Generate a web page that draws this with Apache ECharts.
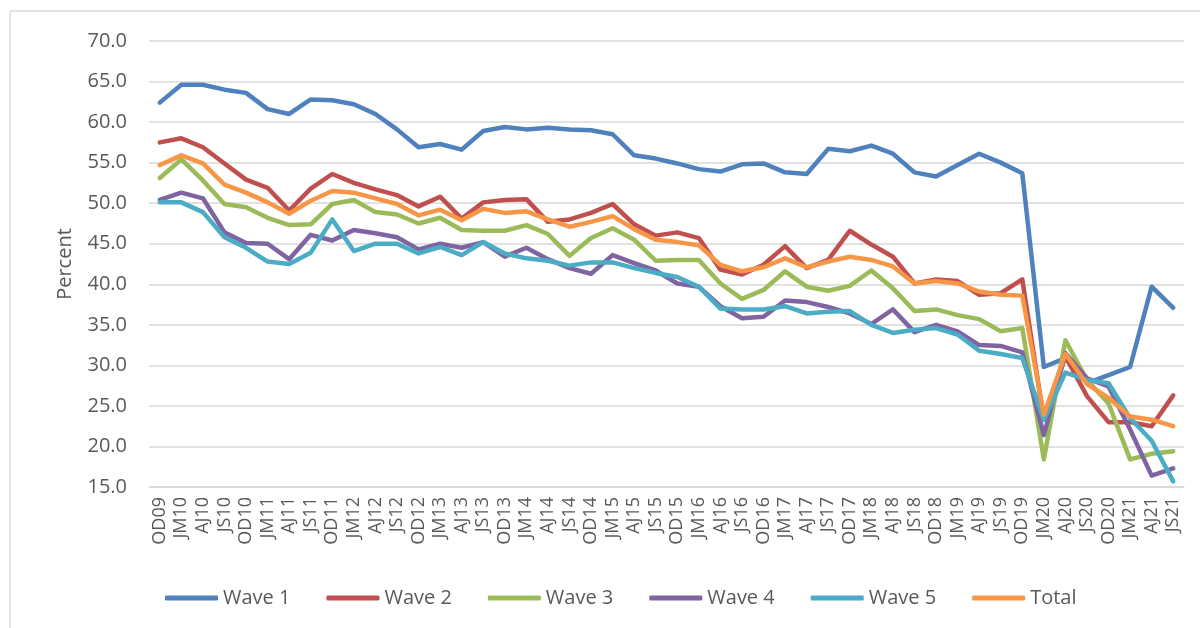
<!DOCTYPE html>
<html><head><meta charset="utf-8">
<script src="https://cdn.jsdelivr.net/npm/echarts@6/dist/echarts.min.js"></script>
<style>html,body{margin:0;padding:0;background:#fff}#c{width:1200px;height:628px}</style>
</head><body><div id="c"></div>
<script>
const categories = ["OD09","JM10","AJ10","JS10","OD10","JM11","AJ11","JS11","OD11","JM12","AJ12","JS12","OD12","JM13","AJ13","JS13","OD13","JM14","AJ14","JS14","OD14","JM15","AJ15","JS15","OD15","JM16","AJ16","JS16","OD16","JM17","AJ17","JS17","OD17","JM18","AJ18","JS18","OD18","JM19","AJ19","JS19","OD19","JM20","AJ20","JS20","OD20","JM21","AJ21","JS21"];
const wave1 = [62.4,64.6,64.6,64.0,63.6,61.6,61.0,62.8,62.7,62.2,61.0,59.1,56.9,57.3,56.6,58.9,59.4,59.1,59.3,59.1,59.0,58.5,55.9,55.5,54.9,54.2,53.9,54.8,54.9,53.8,53.6,56.7,56.4,57.1,56.1,53.8,53.3,54.7,56.1,55.0,53.7,29.8,30.9,27.8,28.8,29.8,39.7,37.1];
const wave2 = [57.5,58.0,56.9,54.9,52.9,51.9,49.1,51.8,53.6,52.5,51.7,51.0,49.6,50.8,48.1,50.1,50.4,50.5,47.7,48.0,48.8,49.9,47.4,46.0,46.4,45.7,41.8,41.2,42.4,44.7,42.0,43.0,46.6,44.9,43.4,40.1,40.6,40.4,38.7,38.9,40.6,23.3,31.1,26.2,23.0,23.0,22.5,26.3];
const wave3 = [53.1,55.4,52.8,49.9,49.5,48.2,47.3,47.4,49.9,50.4,48.9,48.6,47.5,48.2,46.7,46.6,46.6,47.3,46.2,43.5,45.7,46.9,45.5,42.9,43.0,43.0,40.1,38.2,39.3,41.6,39.7,39.2,39.8,41.7,39.5,36.7,36.9,36.2,35.7,34.2,34.6,18.4,33.1,28.2,25.3,18.4,19.1,19.4];
const wave4 = [50.4,51.3,50.6,46.4,45.1,45.0,43.1,46.1,45.4,46.7,46.3,45.8,44.3,45.0,44.5,45.2,43.4,44.5,43.1,42.0,41.3,43.6,42.6,41.7,40.1,39.7,37.3,35.8,36.0,38.0,37.8,37.2,36.4,35.1,36.9,34.1,35.0,34.2,32.5,32.4,31.6,21.4,31.5,28.4,27.4,22.1,16.4,17.3];
const wave5 = [50.1,50.1,48.9,45.8,44.5,42.8,42.5,43.9,48.0,44.1,45.0,45.0,43.8,44.6,43.6,45.2,43.8,43.2,42.9,42.3,42.7,42.7,42.0,41.4,40.9,39.7,37.0,36.9,36.9,37.3,36.4,36.6,36.7,35.0,34.0,34.4,34.6,33.8,31.8,31.4,30.9,23.3,29.1,28.2,27.8,23.5,20.7,15.7];
const total = [54.7,55.9,54.9,52.3,51.3,50.1,48.7,50.3,51.5,51.3,50.6,49.9,48.5,49.2,47.9,49.3,48.8,49.0,48.0,47.1,47.7,48.4,46.8,45.5,45.2,44.8,42.4,41.6,42.1,43.2,42.1,42.8,43.4,43.0,42.2,40.1,40.4,40.1,39.1,38.7,38.6,23.9,31.4,27.7,26.0,23.7,23.3,22.5];
const seriesNames = ["Wave 1","Wave 2","Wave 3","Wave 4","Wave 5","Total"];
const seriesData = [wave1,wave2,wave3,wave4,wave5,total];
const colors = ["#4F81BD","#C0504D","#9BBB59","#8064A2","#4BACC6","#F79646"];

const chart = echarts.init(document.getElementById('c'), null, {renderer:'canvas'});
const font = "'Open Sans', 'Liberation Sans', sans-serif";
chart.setOption({
  animation:false,
  color: colors,
  textStyle:{fontFamily:font},
  graphic:[
    {type:'line', shape:{x1:10,y1:11,x2:1200,y2:11}, style:{stroke:'#d9d9d9',lineWidth:1.5}},
    {type:'line', shape:{x1:10,y1:11,x2:10,y2:628}, style:{stroke:'#d9d9d9',lineWidth:1.5}}
  ],
  grid:{left:149,right:16,top:41,bottom:141},
  legend:{
    bottom:15, left:160,
    itemWidth:53, itemHeight:5, itemGap:36,
    icon:'roundRect',
    textStyle:{fontSize:20,color:'#595959',fontFamily:font},
    data:seriesNames
  },
  xAxis:{
    type:'category', data:categories, boundaryGap:true,
    axisLine:{show:true,lineStyle:{color:'#d9d9d9',width:1.5}},
    axisTick:{show:false},
    axisLabel:{rotate:90,interval:0,fontSize:18,color:'#595959',margin:10,fontFamily:font}
  },
  yAxis:{
    type:'value', min:15, max:70, interval:5,
    name:'Percent', nameLocation:'middle', nameGap:74, nameRotate:90,
    nameTextStyle:{fontSize:20,color:'#595959',fontFamily:font},
    axisLine:{show:false}, axisTick:{show:false},
    axisLabel:{fontSize:20,color:'#595959',margin:22,formatter:v=>v.toFixed(1),fontFamily:font},
    splitLine:{lineStyle:{color:'#d9d9d9',width:1.5}}
  },
  series: seriesNames.map((n,i)=>({
    name:n, type:'line', data:seriesData[i], showSymbol:false, symbol:'none',
    lineStyle:{width:4.5,color:colors[i],cap:'round',join:'round'},
    itemStyle:{color:colors[i]}
  }))
});
</script></body></html>
